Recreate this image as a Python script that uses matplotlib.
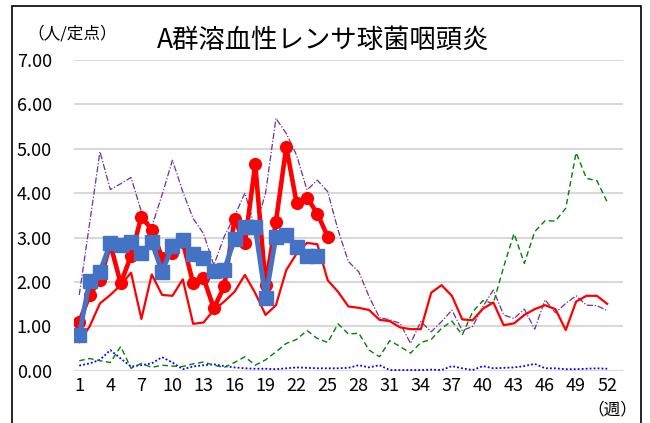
import matplotlib.pyplot as plt
from matplotlib.patches import Rectangle

plt.rcParams["font.family"] = ["Noto Sans CJK JP", "DejaVu Sans"]

weeks = list(range(1, 53))

# current season (thick red, circles), weeks 1-25
cur = [1.10, 1.71, 2.05, 2.85, 1.97, 2.59, 3.47, 3.18, 2.55, 2.65,
       2.90, 1.97, 2.09, 1.41, 1.90, 3.41, 2.87, 4.65, 1.93, 3.36,
       5.04, 3.77, 3.90, 3.54, 3.02]
# thick blue squares, weeks 1-24
prev = [0.82, 2.03, 2.23, 2.87, 2.83, 2.90, 2.66, 2.90, 2.23, 2.81,
        2.94, 2.63, 2.55, 2.25, 2.27, 2.96, 3.24, 3.23, 1.63, 3.02,
        3.06, 2.79, 2.58, 2.58]
red_thin = [0.65, 1.00, 1.52, 1.71, 1.93, 2.21, 1.17, 2.17, 1.71, 1.69,
            2.06, 1.06, 1.09, 1.37, 1.56, 1.78, 2.16, 1.75, 1.26, 1.48,
            2.27, 2.64, 2.88, 2.85, 2.04, 1.78, 1.45, 1.42, 1.37, 1.15,
            1.12, 0.98, 0.94, 0.94, 1.76, 1.93, 1.69, 1.16, 1.14, 1.40,
            1.54, 1.03, 1.07, 1.26, 1.39, 1.48, 1.39, 0.92, 1.56, 1.69,
            1.69, 1.51]
purple = [1.71, 3.32, 4.93, 4.08, 4.21, 4.35, 3.58, 3.24, 3.96, 4.74,
          4.03, 3.43, 3.09, 2.38, 3.02, 3.48, 4.00, 3.20, 4.00, 5.68,
          5.34, 4.85, 4.07, 4.29, 4.03, 3.17, 2.46, 2.23, 1.67, 1.20,
          1.15, 1.07, 0.62, 1.11, 0.88, 1.11, 1.37, 0.91, 1.00, 1.45,
          1.82, 1.26, 1.18, 1.39, 0.94, 1.60, 1.31, 1.52, 1.69, 1.48,
          1.47, 1.36]
green = [0.23, 0.28, 0.23, 0.19, 0.55, 0.06, 0.17, 0.08, 0.13, 0.11,
         0.10, 0.16, 0.20, 0.13, 0.08, 0.19, 0.32, 0.13, 0.25, 0.43,
         0.62, 0.71, 0.91, 0.73, 0.64, 1.06, 0.83, 0.85, 0.47, 0.32,
         0.68, 0.55, 0.40, 0.64, 0.71, 0.96, 1.12, 0.81, 1.33, 1.58,
         1.52, 2.34, 3.09, 2.42, 3.13, 3.38, 3.37, 3.66, 4.91, 4.33,
         4.28, 3.80]
blue_dot = [0.12, 0.17, 0.25, 0.47, 0.28, 0.10, 0.13, 0.17, 0.31, 0.19,
            0.04, 0.10, 0.13, 0.15, 0.11, 0.08, 0.06, 0.05, 0.05, 0.04,
            0.06, 0.08, 0.07, 0.06, 0.06, 0.06, 0.07, 0.13, 0.08, 0.13,
            0.02, 0.02, 0.02, 0.02, 0.03, 0.02, 0.11, 0.06, 0.02, 0.11,
            0.06, 0.07, 0.08, 0.11, 0.16, 0.06, 0.06, 0.04, 0.04, 0.05,
            0.06, 0.05]

fig = plt.figure(figsize=(6.5, 4.23), dpi=100)
ax = fig.add_axes([0.114, 0.123, 0.844, 0.736])

ax.plot(weeks, blue_dot, color="#0000FF", lw=1.3, ls=(0, (1, 1.2)), zorder=2)
ax.plot(weeks, green, color="#008000", lw=1.0, ls=(0, (4, 2.5)), zorder=2)
ax.plot(weeks, purple, color="#7030A0", lw=0.9, ls=(0, (5, 1.5, 1, 1.5)), zorder=2)
ax.plot(weeks, red_thin, color="#FF0000", lw=1.6, zorder=3)
ax.plot(weeks[:len(cur)], cur, color="#FF0000", lw=3.3, marker="o", ms=8.5, zorder=4)
ax.plot(weeks[:len(prev)], prev, color="#4472C4", lw=3.5, marker="s", ms=9.5, zorder=5)

ax.set_xlim(0.5, 53.5)
ax.set_ylim(0, 7)
ax.set_xticks(range(1, 53, 3))
ax.set_yticks(range(0, 8))
ax.set_yticklabels([f"{v:.2f}" for v in range(0, 8)])
ax.tick_params(length=0, labelsize=13, pad=4)
ax.tick_params(axis="y", pad=16)
for s in ax.spines.values():
    s.set_visible(False)
ax.grid(axis="y", color="#d9d9d9", lw=1.5)
ax.set_axisbelow(True)

fig.text(0.497, 0.905, "A群溶血性レンサ球菌咽頭炎", ha="center", va="center", fontsize=19)
fig.text(0.042, 0.92, "（人/定点）", ha="left", va="center", fontsize=12)
fig.text(0.98, 0.012, "（週）", ha="right", va="bottom", fontsize=12)

fig.patches.append(Rectangle((0.0185, -0.02), 0.967, 1.006, transform=fig.transFigure,
                             fill=False, ec="black", lw=1.2))

fig.savefig("out.png")
